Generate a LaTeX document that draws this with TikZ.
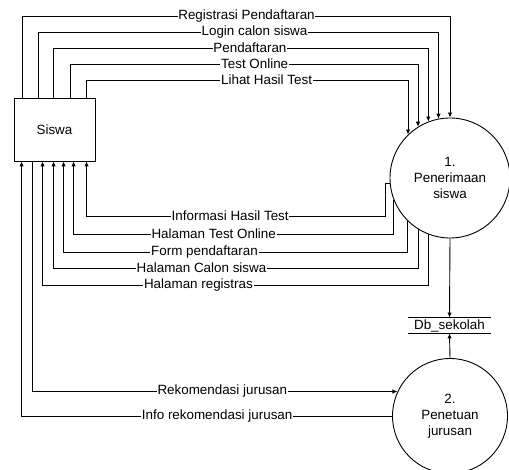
\documentclass[tikz,border=0pt]{standalone}
\usepackage{fontspec}
\setmainfont{Liberation Sans}
\usetikzlibrary{arrows.meta}
\begin{document}
\begin{tikzpicture}[x=1pt,y=-1pt,line width=0.9pt,
  every node/.style={font=\fontsize{13.4}{15.8}\selectfont},
  entity/.style={draw, minimum width=81pt, minimum height=63pt, inner sep=0pt},
  proc/.style={draw, circle, align=center, inner sep=0pt},
  store/.style={minimum width=83pt, minimum height=15pt, inner sep=0pt},
  flow/.style={draw, -{Latex[length=5pt,width=4.5pt]}},
  plainflow/.style={draw},
  lbl/.style={fill=white, inner sep=0.8pt}]
\useasboundingbox (0,0) rectangle (509,470);

% nodes
\node[entity] (siswa) at (54.5,129.5) {Siswa};
\node[proc, minimum size=120pt] (p1) at (450,178) {1.\\Penerimaan\\siswa};
\node[proc, minimum size=115pt] (p2) at (450,416) {2.\\Penetuan\\jurusan};
\node[store] (db) at (449.5,325.5) {Db\_sekolah};
\draw (db.north west) -- (db.north east);
\draw (db.south west) -- (db.south east);

% levels
\coordinate (t1) at (0,16);
\coordinate (t2) at (0,32);
\coordinate (t3) at (0,48);
\coordinate (t4) at (0,64);
\coordinate (t5) at (0,80);
\coordinate (b1) at (0,216);
\coordinate (b2) at (0,234);
\coordinate (b3) at (0,252);
\coordinate (b4) at (0,268);
\coordinate (b5) at (0,285);

% ports on Siswa
\coordinate (st1) at ([xshift=9pt]siswa.north west);
\coordinate (st2) at ([xshift=25pt]siswa.north west);
\coordinate (st3) at ([xshift=40pt]siswa.north west);
\coordinate (st4) at ([xshift=57pt]siswa.north west);
\coordinate (st5) at ([xshift=73pt]siswa.north west);
\coordinate (sb1) at ([xshift=8pt]siswa.south west);
\coordinate (sb2) at ([xshift=19pt]siswa.south west);
\coordinate (sb3) at ([xshift=29pt]siswa.south west);
\coordinate (sb4) at ([xshift=40pt]siswa.south west);
\coordinate (sb5) at ([xshift=50pt]siswa.south west);
\coordinate (sb6) at ([xshift=60pt]siswa.south west);
\coordinate (sb7) at ([xshift=73pt]siswa.south west);
\coordinate (k6) at ([xshift=-4pt]p1.185);

% Siswa -> process 1
\draw[flow] (st1) -- (st1 |- t1) -| node[lbl,pos=0.262]{Registrasi Pendaftaran} (p1.north);
\draw[flow] (st2) -- (st2 |- t2) -| node[lbl,pos=0.27]{Login calon siswa} (p1.101.5);
\draw[flow] (st3) -- (st3 |- t3) -| node[lbl,pos=0.262]{Pendaftaran} (p1.111.5);
\draw[flow] (st4) -- (st4 |- t4) -| node[lbl,pos=0.265]{Test Online} (p1.122.2);
\draw[flow] (st5) -- (st5 |- t5) -| node[lbl,pos=0.28]{Lihat Hasil Test} (p1.134.4);

% process 1 -> Siswa
\draw[flow] (p1.185) -- (k6) -- (k6 |- b1) -| node[lbl,pos=0.26]{Informasi Hasil Test} (sb7);
\draw[flow] (p1.201) -- (p1.201 |- b2) -| node[lbl,pos=0.281]{Halaman Test Online} (sb6);
\draw[flow] (p1.225.6) -- (p1.225.6 |- b3) -| node[lbl,pos=0.295]{Form pendaftaran} (sb5);
\draw[flow] (p1.238.9) -- (p1.238.9 |- b4) -| node[lbl,pos=0.297]{Halaman Calon siswa} (sb4);
\draw[flow] (p1.249.5) -- (p1.249.5 |- b5) -| node[lbl,pos=0.298]{Halaman registras} (sb3);

% data store
\draw[flow] (p1.south) -- (db.north);
\draw[flow] (p2.north) -- (db.south);

% process 2
\draw[flow] (sb2) |- node[lbl,pos=0.76]{Rekomendasi jurusan} (p2.155);
\draw[flow] (p2.west) -| node[lbl,pos=0.236]{Info rekomendasi jurusan} (sb1);
\end{tikzpicture}
\end{document}
